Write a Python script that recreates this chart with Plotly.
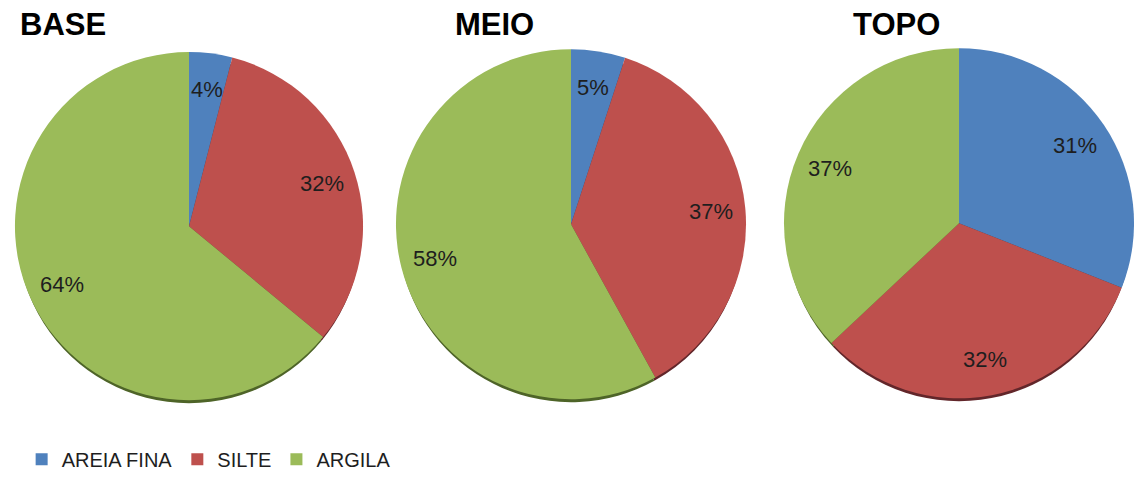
import plotly.graph_objects as go
import math

# Granulometria por nível
categories = ["AREIA FINA", "SILTE", "ARGILA"]
levels = ["BASE", "MEIO", "TOPO"]
base_values = [4, 32, 64]
meio_values = [5, 37, 58]
topo_values = [31, 32, 37]

colors = ["#4F81BD", "#BE504D", "#9BBB59"]
shadow_colors = ["#2A4466", "#62262A", "#4E6428"]

W, H = 1139, 479
# pie centres and radii in pixels
pies = [
    dict(name="BASE", values=base_values, cx=189, cy=230, r=177, title_x=20),
    dict(name="MEIO", values=meio_values, cx=571, cy=228, r=178, title_x=455),
    dict(name="TOPO", values=topo_values, cx=959, cy=227, r=178, title_x=853),
]


def domain(cx, cy, r, dy=0):
    clamp = lambda v: min(1.0, max(0.0, v))
    return dict(
        x=[clamp((cx - r) / W), clamp((cx + r) / W)],
        y=[clamp(1 - (cy + dy + r) / H), clamp(1 - (cy + dy - r) / H)],
    )


fig = go.Figure()
annotations = []

for i, p in enumerate(pies):
    # dark rim under each pie
    fig.add_trace(go.Pie(
        labels=categories, values=p["values"], sort=False, direction="clockwise",
        rotation=0, domain=domain(p["cx"], p["cy"], p["r"] - 2, dy=5),
        marker=dict(colors=shadow_colors, line=dict(width=0)),
        textinfo="none", hoverinfo="skip", showlegend=False,
    ))
    fig.add_trace(go.Pie(
        labels=categories, values=p["values"], sort=False, direction="clockwise",
        rotation=0, domain=domain(p["cx"], p["cy"], p["r"]),
        marker=dict(colors=colors, line=dict(width=0)),
        textinfo="none", hoverinfo="label+percent", showlegend=(i == 0),
        name=p["name"],
    ))
    # percentage labels placed along each slice's mid angle
    total = sum(p["values"])
    cum = 0
    for v in p["values"]:
        mid = (cum + v / 2) / total * 2 * math.pi
        cum += v
        px = p["cx"] + 0.79 * p["r"] * math.sin(mid)
        py = p["cy"] - 0.79 * p["r"] * math.cos(mid)
        annotations.append(dict(
            x=px / W, y=1 - py / H, xref="paper", yref="paper",
            text=f"{round(v / total * 100)}%", showarrow=False,
            font=dict(family="Liberation Sans", size=22, color="#1E1E1E"),
            xanchor="center", yanchor="middle",
        ))
    annotations.append(dict(
        x=p["title_x"] / W, y=1 - 25 / H, xref="paper", yref="paper",
        text=f"<b>{p['name']}</b>", showarrow=False,
        font=dict(family="Liberation Sans", size=31, color="#000000"),
        xanchor="left", yanchor="middle", xshift=-2,
    ))

fig.update_layout(
    width=W, height=H,
    margin=dict(l=0, r=0, t=0, b=0),
    paper_bgcolor="white", plot_bgcolor="white",
    annotations=annotations,
    legend=dict(
        orientation="h", x=0.019, y=1 - 467 / H, xanchor="left", yanchor="middle",
        font=dict(family="Liberation Sans", size=20, color="#1E1E1E"),
        traceorder="normal",
    ),
)

fig.write_html("out.html")
